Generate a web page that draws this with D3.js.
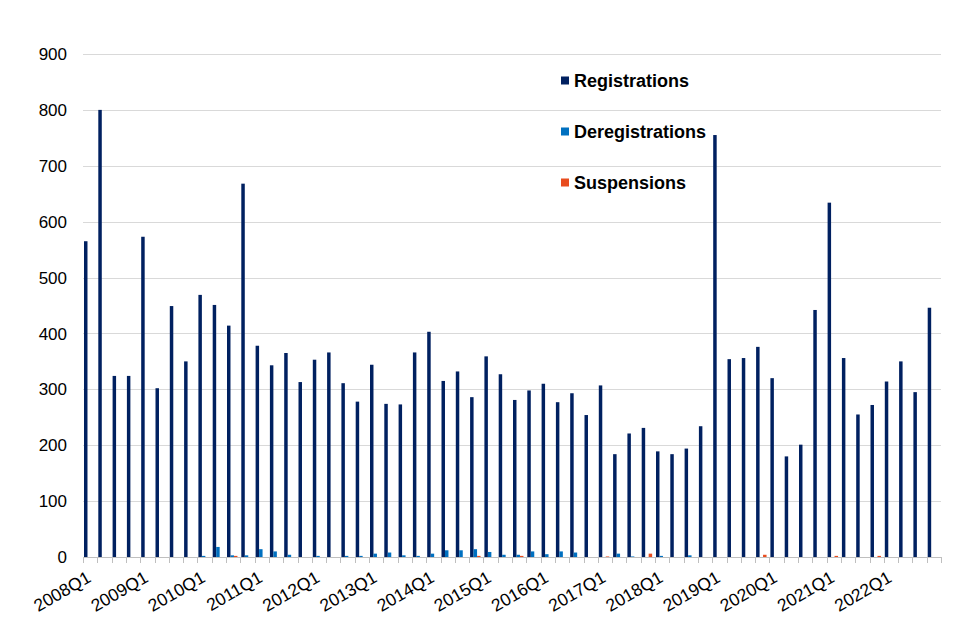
<!DOCTYPE html>
<html>
<head>
<meta charset="utf-8">
<script src="https://cdn.jsdelivr.net/npm/d3@7"></script>
<style>
  body { margin: 0; background: #fff; }
  svg text { font-family: "Liberation Sans", Arial, sans-serif; fill: #000; }
</style>
</head>
<body>
<svg id="chart" width="960" height="640"></svg>
<script>
const years = [2008, 2009, 2010, 2011, 2012, 2013, 2014, 2015, 2016, 2017, 2018, 2019, 2020, 2021, 2022];
const quarters = ["Q1", "Q2", "Q3", "Q4"];
const categories = years.flatMap(y => quarters.map(q => y + q));
const tickLabels = years.map(y => y + "Q1");

const registrations = [
  565, 800, 324, 324, 573, 302, 449, 350, 469, 451, 414, 668, 378, 343, 365,
  313, 353, 366, 311, 278, 344, 274, 273, 366, 403, 315, 332, 286, 359, 327,
  281, 298, 310, 277, 293, 254, 307, 184, 221, 231, 189, 184, 194, 234, 755,
  354, 356, 376, 320, 180, 201, 442, 634, 356, 255, 272, 314, 350, 295, 446
];
const deregistrations = [
  0, 0, 0, 0, 0, 0, 0, 0, 2, 18, 3, 3, 14, 10, 4,
  0, 2, 0, 2, 2, 6, 8, 3, 2, 6, 12, 12, 14, 9, 4,
  4, 10, 5, 10, 8, 0, 0, 6, 1, 0, 2, 0, 3, 0, 0,
  0, 0, 0, 0, 0, 0, 0, 0, 0, 0, 0, 0, 0, 0, 0
];
const suspensions = [
  0, 0, 0, 0, 0, 0, 0, 0, 0, 0, 2, 0, 0, 0, 0,
  0, 0, 0, 0, 0, 0, 0, 0, 0, 0, 0, 0, 2, 0, 0,
  2, 0, 0, 0, 0, 0, 1, 0, 0, 6, 0, 0, 0, 0, 0,
  0, 0, 4, 0, 0, 0, 0, 2, 0, 0, 2, 0, 0, 0, 0
];
const yTicks = [0, 100, 200, 300, 400, 500, 600, 700, 800, 900];

const series = [
  {name: "Registrations", values: registrations, color: "#002060"},
  {name: "Deregistrations", values: deregistrations, color: "#0070C0"},
  {name: "Suspensions", values: suspensions, color: "#E84C1E"}
];

const svg = d3.select("#chart");
const margin = {top: 54, right: 19, bottom: 83, left: 83};
const width = 960 - margin.left - margin.right;
const height = 640 - margin.top - margin.bottom;

const g = svg.append("g").attr("transform", `translate(${margin.left},${margin.top})`);

const x0 = d3.scaleBand().domain(categories).range([0, width]);
const x1 = d3.scaleBand()
  .domain(series.map(s => s.name))
  .range([x0.bandwidth() * 0.07, x0.bandwidth() * 0.8]);
const y = d3.scaleLinear().domain([0, 900]).range([height, 0]);

// gridlines
g.append("g").selectAll("line").data(yTicks).join("line")
  .attr("x1", 0).attr("x2", width)
  .attr("y1", d => Math.round(y(d)) + 0.5).attr("y2", d => Math.round(y(d)) + 0.5)
  .attr("stroke", "#d9d9d9").attr("stroke-width", 1);

// y labels
g.append("g").selectAll("text").data(yTicks).join("text")
  .attr("x", -16).attr("y", d => y(d))
  .attr("dy", "0.36em")
  .attr("text-anchor", "end")
  .style("font-size", "17px")
  .text(d => d);

// bars
series.forEach(s => {
  g.append("g").selectAll("rect").data(s.values).join("rect")
    .attr("x", (d, i) => x0(categories[i]) + x1(s.name))
    .attr("width", x1.bandwidth())
    .attr("y", d => y(d))
    .attr("height", d => y(0) - y(d))
    .attr("fill", s.color);
});

// x axis baseline + ticks at category boundaries
const axis = g.append("g").attr("transform", `translate(0,${height})`);
axis.append("line")
  .attr("x1", 0).attr("x2", width).attr("y1", 0.5).attr("y2", 0.5)
  .attr("stroke", "#bfbfbf");
axis.selectAll("line.tick").data(categories.concat([null])).join("line")
  .attr("class", "tick")
  .attr("x1", (d, i) => Math.round(i * x0.step()) + 0.5)
  .attr("x2", (d, i) => Math.round(i * x0.step()) + 0.5)
  .attr("y1", 0).attr("y2", 6)
  .attr("stroke", "#bfbfbf");

axis.selectAll("text").data(tickLabels).join("text")
  .attr("text-anchor", "end")
  .attr("transform", d => `translate(${x0(d) + x0.bandwidth() / 2 + 2},24) rotate(-30)`)
  .style("font-size", "17.5px")
  .text(d => d);

// legend
const legend = svg.append("g").attr("transform", "translate(561,80)");
const li = legend.selectAll("g").data(series).join("g")
  .attr("transform", (d, i) => `translate(0,${i * 51})`);
li.append("rect").attr("x", 0).attr("y", -3.5).attr("width", 8).attr("height", 8)
  .attr("fill", d => d.color);
li.append("text").attr("x", 13).attr("y", 0).attr("dy", "0.38em")
  .style("font-size", "18px").style("font-weight", "bold")
  .text(d => d.name);
</script>
</body>
</html>
